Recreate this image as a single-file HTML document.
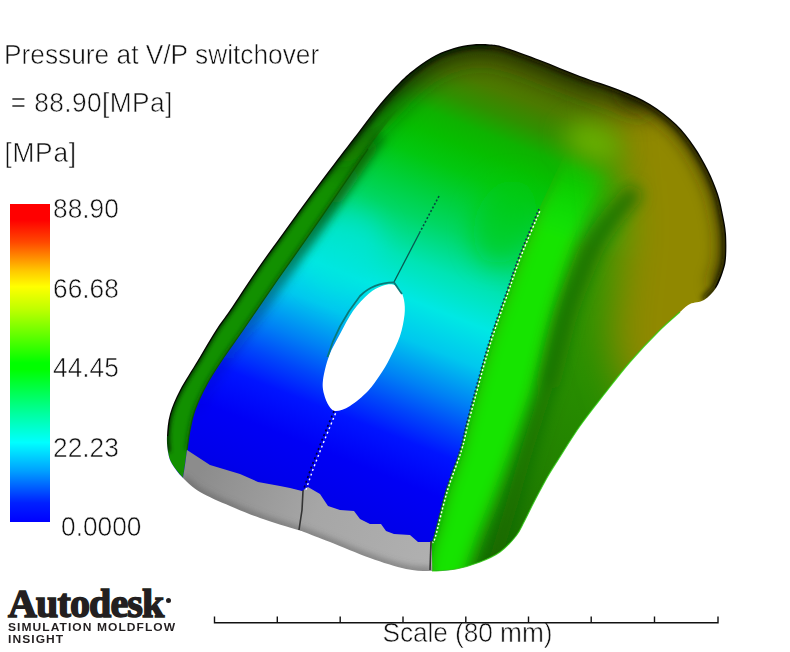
<!DOCTYPE html>
<html><head><meta charset="utf-8"><title>Pressure at V/P switchover</title>
<style>
html,body{margin:0;padding:0;background:#fff;}
body{width:790px;height:652px;position:relative;overflow:hidden;font-family:"Liberation Sans",sans-serif;color:#111;}
.t{position:absolute;white-space:nowrap;font-size:26.3px;line-height:26.3px;color:#101010;-webkit-text-stroke:0.55px #fff;transform:scaleY(1.045);transform-origin:0 84.6%;}
#bar{position:absolute;left:10px;top:204px;width:40px;height:318px;background:linear-gradient(to bottom,#ff0000 0%,#ff0000 5%,#ff4800 12%,#ffc800 21%,#ffff00 26%,#c0ff00 33%,#00ff00 50%,#00ff00 52%,#00ffa0 66%,#00ffff 75%,#00a0ff 84%,#0020ff 94%,#0000ff 100%);}
svg{position:absolute;left:0;top:0;}
.logo{position:absolute;left:8px;top:584px;font-family:"Liberation Serif",serif;font-weight:bold;font-size:40px;line-height:40px;letter-spacing:-0.85px;color:#231f20;-webkit-text-stroke:1.5px #231f20;white-space:nowrap;}
.sub{position:absolute;left:7.5px;font-family:"Liberation Sans",sans-serif;font-weight:bold;font-size:10.2px;line-height:10px;letter-spacing:0.9px;color:#231f20;white-space:nowrap;transform:scaleX(1.18);transform-origin:0 0;}
</style></head><body>
<div class="t" id="t1" style="left:4px;top:42.3px;letter-spacing:0px;">Pressure at V/P switchover</div>
<div class="t" id="t2" style="left:10.8px;top:90.2px;letter-spacing:0.4px;">= 88.90[MPa]</div>
<div class="t" id="t3" style="left:4.4px;top:140.3px;letter-spacing:0.75px;">[MPa]</div>
<div id="bar"></div>
<div class="t" id="l1" style="left:53px;top:196.2px;">88.90</div>
<div class="t" id="l2" style="left:53px;top:275.7px;">66.68</div>
<div class="t" id="l3" style="left:53px;top:355.2px;">44.45</div>
<div class="t" id="l4" style="left:53px;top:434.7px;">22.23</div>
<div class="t" id="l5" style="left:61px;top:514.2px;">0.0000</div>

<svg width="790" height="652" viewBox="0 0 790 652">
<defs>
<mask id="sil" maskUnits="userSpaceOnUse" x="140" y="30" width="620" height="570"><path d="M183.0,478.0 C178.3,473.3 174.5,468.3 172.0,464.0 C169.5,459.7 168.8,456.7 168.0,452.0 C167.2,447.3 166.7,442.3 167.0,436.0 C167.3,429.7 167.8,421.7 170.0,414.0 C172.2,406.3 175.3,399.0 180.0,390.0 C184.7,381.0 192.0,370.0 198.0,360.0 C204.0,350.0 210.7,338.3 216.0,330.0 C221.3,321.7 223.0,320.3 230.0,310.0 C237.0,299.7 248.7,281.5 258.0,268.0 C267.3,254.5 277.3,241.0 286.0,229.0 C294.7,217.0 302.0,206.8 310.0,196.0 C318.0,185.2 325.7,175.0 334.0,164.0 C342.3,153.0 352.3,140.0 360.0,130.0 C367.7,120.0 373.3,112.0 380.0,104.0 C386.7,96.0 394.0,88.0 400.0,82.0 C406.0,76.0 410.0,72.5 416.0,68.0 C422.0,63.5 429.7,58.3 436.0,55.0 C442.3,51.7 448.0,49.8 454.0,48.0 C460.0,46.2 466.0,45.1 472.0,44.5 C478.0,43.9 484.7,44.1 490.0,44.5 C495.3,44.9 495.7,44.4 504.0,47.0 C512.3,49.6 527.3,55.2 540.0,60.0 C552.7,64.8 566.7,71.0 580.0,76.0 C593.3,81.0 608.3,85.3 620.0,90.0 C631.7,94.7 640.7,98.3 650.0,104.0 C659.3,109.7 668.7,117.0 676.0,124.0 C683.3,131.0 688.7,138.3 694.0,146.0 C699.3,153.7 704.0,162.0 708.0,170.0 C712.0,178.0 715.5,186.5 718.0,194.0 C720.5,201.5 721.7,208.3 723.0,215.0 C724.3,221.7 725.5,226.8 726.0,234.0 C726.5,241.2 726.5,251.7 726.0,258.0 C725.5,264.3 724.7,267.0 723.0,272.0 C721.3,277.0 719.2,283.3 716.0,288.0 C712.8,292.7 708.3,297.3 704.0,300.0 C699.7,302.7 694.0,302.0 690.0,304.0 C686.0,306.0 685.3,307.3 680.0,312.0 C674.7,316.7 666.3,323.7 658.0,332.0 C649.7,340.3 638.7,352.0 630.0,362.0 C621.3,372.0 614.3,381.3 606.0,392.0 C597.7,402.7 588.0,414.7 580.0,426.0 C572.0,437.3 563.3,451.7 558.0,460.0 C552.7,468.3 552.0,469.0 548.0,476.0 C544.0,483.0 538.0,494.3 534.0,502.0 C530.0,509.7 527.0,516.3 524.0,522.0 C521.0,527.7 520.0,531.0 516.0,536.0 C512.0,541.0 506.0,547.7 500.0,552.0 C494.0,556.3 487.3,559.2 480.0,562.0 C472.7,564.8 464.0,567.5 456.0,569.0 C448.0,570.5 440.3,571.0 432.0,571.0 C423.7,571.0 416.3,571.2 406.0,569.0 C395.7,566.8 382.7,562.5 370.0,558.0 C357.3,553.5 341.0,546.3 330.0,542.0 C319.0,537.7 309.3,534.0 304.0,532.0 C298.7,530.0 305.3,532.3 298.0,530.0 C290.7,527.7 271.3,522.0 260.0,518.0 C248.7,514.0 240.0,510.3 230.0,506.0 C220.0,501.7 207.8,496.7 200.0,492.0 C192.2,487.3 187.7,482.7 183.0,478.0Z" fill="#fff"/></mask>
<clipPath id="rp"><path d="M539.0,209.0 C535.7,217.0 524.3,243.3 519.0,257.0 C513.7,270.7 512.2,276.2 507.0,291.0 C501.8,305.8 494.5,324.8 488.0,346.0 C481.5,367.2 472.7,400.7 468.0,418.0 C463.3,435.3 463.7,438.0 460.0,450.0 C456.3,462.0 450.3,475.7 446.0,490.0 C441.7,504.3 436.5,527.3 434.0,536.0 C431.5,544.7 431.5,541.0 431.0,542.0 L432.0,571.0 C436.0,570.7 448.0,570.5 456.0,569.0 C464.0,567.5 472.7,564.8 480.0,562.0 C487.3,559.2 494.0,556.3 500.0,552.0 C506.0,547.7 512.0,541.0 516.0,536.0 C520.0,531.0 521.0,527.7 524.0,522.0 C527.0,516.3 530.0,509.7 534.0,502.0 C538.0,494.3 544.0,483.0 548.0,476.0 C552.0,469.0 552.7,468.3 558.0,460.0 C563.3,451.7 572.0,437.3 580.0,426.0 C588.0,414.7 597.7,402.7 606.0,392.0 C614.3,381.3 621.3,372.0 630.0,362.0 C638.7,352.0 649.7,340.3 658.0,332.0 C666.3,323.7 674.7,316.7 680.0,312.0 C685.3,307.3 686.0,306.0 690.0,304.0 C694.0,302.0 699.7,302.7 704.0,300.0 C708.3,297.3 712.8,292.7 716.0,288.0 C719.2,283.3 721.3,277.0 723.0,272.0 C724.7,267.0 725.5,264.3 726.0,258.0 C726.5,251.7 726.5,241.2 726.0,234.0 C725.5,226.8 724.3,221.7 723.0,215.0 C721.7,208.3 720.5,201.5 718.0,194.0 C715.5,186.5 712.0,178.0 708.0,170.0 C704.0,162.0 705.3,156.0 694.0,146.0 C682.7,136.0 657.3,114.3 640.0,110.0 C622.7,105.7 603.0,111.7 590.0,120.0 C577.0,128.3 566.7,153.3 562.0,160.0Z"/></clipPath>
<filter id="b2" x="-20%" y="-20%" width="140%" height="140%"><feGaussianBlur stdDeviation="2"/></filter>
<filter id="b3" x="-20%" y="-20%" width="140%" height="140%"><feGaussianBlur stdDeviation="3"/></filter>
<filter id="b5" x="-20%" y="-20%" width="140%" height="140%"><feGaussianBlur stdDeviation="5"/></filter>
<filter id="b8" x="-30%" y="-30%" width="160%" height="160%"><feGaussianBlur stdDeviation="8"/></filter>
<filter id="b12" x="-30%" y="-30%" width="160%" height="160%"><feGaussianBlur stdDeviation="12"/></filter>
<filter id="b20" x="-40%" y="-40%" width="180%" height="180%"><feGaussianBlur stdDeviation="20"/></filter>
<linearGradient id="gtop" gradientUnits="userSpaceOnUse" x1="250" y1="486.6" x2="435" y2="21.6">
 <stop offset="0.000" stop-color="rgb(0,0,228)"/>
 <stop offset="0.030" stop-color="rgb(0,0,235)"/>
 <stop offset="0.120" stop-color="rgb(0,0,245)"/>
 <stop offset="0.200" stop-color="rgb(0,20,255)"/>
 <stop offset="0.255" stop-color="rgb(0,70,250)"/>
 <stop offset="0.312" stop-color="rgb(0,128,245)"/>
 <stop offset="0.390" stop-color="rgb(0,200,238)"/>
 <stop offset="0.466" stop-color="rgb(0,232,228)"/>
 <stop offset="0.540" stop-color="rgb(0,228,180)"/>
 <stop offset="0.624" stop-color="rgb(0,215,100)"/>
 <stop offset="0.680" stop-color="rgb(0,208,60)"/>
 <stop offset="0.740" stop-color="rgb(2,200,16)"/>
 <stop offset="0.790" stop-color="rgb(6,190,0)"/>
 <stop offset="0.830" stop-color="rgb(14,178,0)"/>
 <stop offset="0.875" stop-color="rgb(48,144,0)"/>
 <stop offset="0.920" stop-color="rgb(75,122,0)"/>
 <stop offset="1.000" stop-color="rgb(90,105,0)"/>
</linearGradient>
<linearGradient id="frp" gradientUnits="userSpaceOnUse" x1="590" y1="150" x2="560" y2="240">
 <stop offset="0" stop-color="#000"/><stop offset="1" stop-color="#fff"/>
</linearGradient>
<mask id="mrp" maskUnits="userSpaceOnUse" x="400" y="30" width="360" height="560"><path d="M539.0,209.0 C535.7,217.0 524.3,243.3 519.0,257.0 C513.7,270.7 512.2,276.2 507.0,291.0 C501.8,305.8 494.5,324.8 488.0,346.0 C481.5,367.2 472.7,400.7 468.0,418.0 C463.3,435.3 463.7,438.0 460.0,450.0 C456.3,462.0 450.3,475.7 446.0,490.0 C441.7,504.3 436.5,527.3 434.0,536.0 C431.5,544.7 431.5,541.0 431.0,542.0 L432.0,571.0 C436.0,570.7 448.0,570.5 456.0,569.0 C464.0,567.5 472.7,564.8 480.0,562.0 C487.3,559.2 494.0,556.3 500.0,552.0 C506.0,547.7 512.0,541.0 516.0,536.0 C520.0,531.0 521.0,527.7 524.0,522.0 C527.0,516.3 530.0,509.7 534.0,502.0 C538.0,494.3 544.0,483.0 548.0,476.0 C552.0,469.0 552.7,468.3 558.0,460.0 C563.3,451.7 572.0,437.3 580.0,426.0 C588.0,414.7 597.7,402.7 606.0,392.0 C614.3,381.3 621.3,372.0 630.0,362.0 C638.7,352.0 649.7,340.3 658.0,332.0 C666.3,323.7 674.7,316.7 680.0,312.0 C685.3,307.3 686.0,306.0 690.0,304.0 C694.0,302.0 699.7,302.7 704.0,300.0 C708.3,297.3 712.8,292.7 716.0,288.0 C719.2,283.3 721.3,277.0 723.0,272.0 C724.7,267.0 725.5,264.3 726.0,258.0 C726.5,251.7 726.5,241.2 726.0,234.0 C725.5,226.8 724.3,221.7 723.0,215.0 C721.7,208.3 720.5,201.5 718.0,194.0 C715.5,186.5 712.0,178.0 708.0,170.0 C704.0,162.0 705.3,156.0 694.0,146.0 C682.7,136.0 657.3,114.3 640.0,110.0 C622.7,105.7 603.0,111.7 590.0,120.0 C577.0,128.3 566.7,153.3 562.0,160.0Z" fill="url(#frp)"/></mask>
<linearGradient id="fls" gradientUnits="userSpaceOnUse" x1="398" y1="108" x2="362" y2="156">
 <stop offset="0" stop-color="#000"/><stop offset="1" stop-color="#fff"/>
</linearGradient>
<mask id="mls" maskUnits="userSpaceOnUse" x="140" y="30" width="360" height="480"><path d="M183.0,478.0 C181.2,475.7 174.5,468.3 172.0,464.0 C169.5,459.7 168.8,456.7 168.0,452.0 C167.2,447.3 166.7,442.3 167.0,436.0 C167.3,429.7 167.8,421.7 170.0,414.0 C172.2,406.3 175.3,399.0 180.0,390.0 C184.7,381.0 192.0,370.0 198.0,360.0 C204.0,350.0 210.7,338.3 216.0,330.0 C221.3,321.7 223.0,320.3 230.0,310.0 C237.0,299.7 248.7,281.5 258.0,268.0 C267.3,254.5 277.3,241.0 286.0,229.0 C294.7,217.0 302.0,206.8 310.0,196.0 C318.0,185.2 325.7,175.0 334.0,164.0 C342.3,153.0 352.3,140.0 360.0,130.0 C367.7,120.0 373.3,112.0 380.0,104.0 C386.7,96.0 394.0,88.0 400.0,82.0 C406.0,76.0 410.0,72.5 416.0,68.0 C422.0,63.5 429.7,58.3 436.0,55.0 C442.3,51.7 451.0,49.2 454.0,48.0 L450.0,60.0 C445.0,64.2 429.7,75.5 420.0,85.0 C410.3,94.5 400.7,106.3 392.0,117.0 C383.3,127.7 376.3,137.3 368.0,149.0 C359.7,160.7 351.8,172.7 342.0,187.0 C332.2,201.3 319.7,219.7 309.0,235.0 C298.3,250.3 289.0,263.2 278.0,279.0 C267.0,294.8 252.0,317.0 243.0,330.0 C234.0,343.0 230.0,348.0 224.0,357.0 C218.0,366.0 211.8,375.2 207.0,384.0 C202.2,392.8 197.8,402.3 195.0,410.0 C192.2,417.7 191.3,423.3 190.0,430.0 C188.7,436.7 187.5,446.7 187.0,450.0Z" fill="url(#fls)"/></mask>
<linearGradient id="gshade" gradientUnits="userSpaceOnUse" x1="200" y1="420" x2="400" y2="110">
 <stop offset="0" stop-color="#000a40" stop-opacity="0"/>
 <stop offset="0.25" stop-color="#002060" stop-opacity="0.25"/>
 <stop offset="0.5" stop-color="#045a30" stop-opacity="0.7"/>
 <stop offset="0.72" stop-color="#086410" stop-opacity="0.9"/>
 <stop offset="0.86" stop-color="#0a6a00" stop-opacity="0.8"/>
 <stop offset="1" stop-color="#0a6a00" stop-opacity="0"/>
</linearGradient>
<linearGradient id="grim1" gradientUnits="userSpaceOnUse" x1="325" y1="180" x2="395" y2="95">
 <stop offset="0" stop-color="#1c2400" stop-opacity="0"/><stop offset="1" stop-color="#1c2400" stop-opacity="0.8"/>
</linearGradient>
<linearGradient id="grim2" gradientUnits="userSpaceOnUse" x1="315" y1="190" x2="385" y2="105">
 <stop offset="0" stop-color="#0c0a00" stop-opacity="0"/><stop offset="1" stop-color="#0c0a00" stop-opacity="0.9"/>
</linearGradient>
<linearGradient id="grpb" gradientUnits="userSpaceOnUse" x1="490" y1="570" x2="640" y2="250">
 <stop offset="0" stop-color="#1a6a00"/><stop offset="0.3" stop-color="#218000"/><stop offset="0.6" stop-color="#288e00"/><stop offset="1" stop-color="#329800"/>
</linearGradient>
<linearGradient id="ggrey" gradientUnits="userSpaceOnUse" x1="200" y1="470" x2="430" y2="560">
 <stop offset="0" stop-color="#8c8c8c"/>
 <stop offset="0.5" stop-color="#a6a6a6"/>
 <stop offset="1" stop-color="#b0b0b0"/>
</linearGradient>
</defs>
<g mask="url(#sil)">
 <rect x="140" y="30" width="620" height="560" fill="url(#gtop)"/>
 <g filter="url(#b12)"><ellipse cx="345" cy="250" rx="42" ry="34" fill="#00e6dc" opacity="0.55" transform="rotate(-50 345 250)"/></g>
 <g filter="url(#b12)"><ellipse cx="505" cy="222" rx="30" ry="44" fill="#04cc0c" opacity="0.6" transform="rotate(20 505 222)"/></g>
 <!-- shading on top face next to left inner seam -->
 <g filter="url(#b5)">
  <path d="M187.0,450.0 C187.5,446.7 188.7,436.7 190.0,430.0 C191.3,423.3 192.2,417.7 195.0,410.0 C197.8,402.3 202.2,392.8 207.0,384.0 C211.8,375.2 218.0,366.0 224.0,357.0 C230.0,348.0 234.0,343.0 243.0,330.0 C252.0,317.0 267.0,294.8 278.0,279.0 C289.0,263.2 298.3,250.3 309.0,235.0 C319.7,219.7 332.2,201.3 342.0,187.0 C351.8,172.7 361.7,158.0 368.0,149.0 C374.3,140.0 378.0,135.7 380.0,133.0" fill="none" stroke="url(#gshade)" stroke-width="17"/>
 </g>
 <!-- right panel -->
 <g mask="url(#mrp)">
  <rect x="420" y="100" width="340" height="490" fill="url(#grpb)"/>
  <g filter="url(#b8)">
   <path d="M539.0,209.0 C535.7,217.0 524.3,243.3 519.0,257.0 C513.7,270.7 512.2,276.2 507.0,291.0 C501.8,305.8 494.5,324.8 488.0,346.0 C481.5,367.2 472.7,400.7 468.0,418.0 C463.3,435.3 463.7,438.0 460.0,450.0 C456.3,462.0 450.3,475.7 446.0,490.0 C441.7,504.3 436.5,527.3 434.0,536.0 C431.5,544.7 433.3,531.3 431.0,542.0 C428.7,552.7 421.8,590.3 420.0,600.0 L462.0,590.0 C464.8,581.7 473.5,555.0 479.0,540.0 C484.5,525.0 489.0,515.5 495.0,500.0 C501.0,484.5 508.2,466.0 515.0,447.0 C521.8,428.0 530.7,403.8 536.0,386.0 C541.3,368.2 543.3,354.3 547.0,340.0 C550.7,325.7 553.8,314.2 558.0,300.0 C562.2,285.8 567.0,269.2 572.0,255.0 C577.0,240.8 582.3,229.2 588.0,215.0 C593.7,200.8 609.0,180.8 606.0,170.0 C603.0,159.2 576.0,153.3 570.0,150.0Z" fill="#14e400"/>
  </g>
 </g>
 <!-- olive back region -->
 <g filter="url(#b20)">
  <path d="M606,30 L780,50 L780,380 L630,404 L610,340 L622,230 L612,120 Z" fill="#908800"/>
 </g>
 <g filter="url(#b8)">
   <path d="M636.0,190.0 C632.0,194.7 619.2,208.7 612.0,218.0 C604.8,227.3 599.0,234.8 593.0,246.0 C587.0,257.2 580.7,273.5 576.0,285.0 C571.3,296.5 568.3,304.2 565.0,315.0 C561.7,325.8 559.0,338.2 556.0,350.0 C553.0,361.8 551.7,369.8 547.0,386.0 C542.3,402.2 533.7,428.0 528.0,447.0 C522.3,466.0 517.5,484.5 513.0,500.0 C508.5,515.5 505.5,525.0 501.0,540.0 C496.5,555.0 488.5,581.7 486.0,590.0" fill="none" stroke="#156400" stroke-width="13" opacity="0.7"/>
   <path d="M636.0,190.0 C632.0,194.7 619.2,208.7 612.0,218.0 C604.8,227.3 599.0,234.8 593.0,246.0 C587.0,257.2 580.7,273.5 576.0,285.0 C571.3,296.5 568.3,304.2 565.0,315.0 C561.7,325.8 559.0,338.2 556.0,350.0 C553.0,361.8 548.5,380.0 547.0,386.0" fill="none" stroke="#166800" stroke-width="16" opacity="0.6"/>
 </g>
 <g filter="url(#b12)">
  <ellipse cx="593" cy="142" rx="30" ry="19" fill="#6cb400" opacity="0.9" transform="rotate(20 593 142)"/>
 </g>
 <!-- left strip -->
 <g mask="url(#mls)">
  <rect x="140" y="30" width="400" height="480" fill="#129000"/>
  <g filter="url(#b2)"><path d="M187.0,450.0 C187.5,446.7 188.7,436.7 190.0,430.0 C191.3,423.3 192.2,417.7 195.0,410.0 C197.8,402.3 202.2,392.8 207.0,384.0 C211.8,375.2 218.0,366.0 224.0,357.0 C230.0,348.0 234.0,343.0 243.0,330.0 C252.0,317.0 267.0,294.8 278.0,279.0 C289.0,263.2 298.3,250.3 309.0,235.0 C319.7,219.7 332.2,201.3 342.0,187.0 C351.8,172.7 359.7,160.7 368.0,149.0 C376.3,137.3 383.3,127.7 392.0,117.0 C400.7,106.3 410.3,94.5 420.0,85.0 C429.7,75.5 445.0,64.2 450.0,60.0" fill="none" stroke="#0a6a00" stroke-width="5"/></g>
 </g>
 <!-- edge darkening -->
 <g filter="url(#b12)">
  <path d="M258.0,268.0 C262.7,261.5 277.3,241.0 286.0,229.0 C294.7,217.0 302.0,206.8 310.0,196.0 C318.0,185.2 325.7,175.0 334.0,164.0 C342.3,153.0 352.3,140.0 360.0,130.0 C367.7,120.0 373.3,112.0 380.0,104.0 C386.7,96.0 394.0,88.0 400.0,82.0 C406.0,76.0 410.0,72.5 416.0,68.0 C422.0,63.5 429.7,58.3 436.0,55.0 C442.3,51.7 448.0,49.8 454.0,48.0 C460.0,46.2 466.0,45.1 472.0,44.5 C478.0,43.9 484.7,44.1 490.0,44.5 C495.3,44.9 495.7,44.4 504.0,47.0 C512.3,49.6 527.3,55.2 540.0,60.0 C552.7,64.8 566.7,71.0 580.0,76.0 C593.3,81.0 608.3,85.3 620.0,90.0 C631.7,94.7 645.0,101.7 650.0,104.0" fill="none" stroke="url(#grim1)" stroke-width="30"/>
 </g>
 <g filter="url(#b8)">
  <path d="M620.0,90.0 C625.0,92.3 640.7,98.3 650.0,104.0 C659.3,109.7 668.7,117.0 676.0,124.0 C683.3,131.0 688.7,138.3 694.0,146.0 C699.3,153.7 704.0,162.0 708.0,170.0 C712.0,178.0 715.5,186.5 718.0,194.0 C720.5,201.5 721.7,208.3 723.0,215.0 C724.3,221.7 725.5,226.8 726.0,234.0 C726.5,241.2 726.5,251.7 726.0,258.0 C725.5,264.3 724.7,267.0 723.0,272.0 C721.3,277.0 717.2,285.3 716.0,288.0" fill="none" stroke="#282000" stroke-width="16" opacity="0.75"/>
 </g>
 <g filter="url(#b3)">
  <path d="M258.0,268.0 C262.7,261.5 277.3,241.0 286.0,229.0 C294.7,217.0 302.0,206.8 310.0,196.0 C318.0,185.2 325.7,175.0 334.0,164.0 C342.3,153.0 352.3,140.0 360.0,130.0 C367.7,120.0 373.3,112.0 380.0,104.0 C386.7,96.0 394.0,88.0 400.0,82.0 C406.0,76.0 410.0,72.5 416.0,68.0 C422.0,63.5 429.7,58.3 436.0,55.0 C442.3,51.7 448.0,49.8 454.0,48.0 C460.0,46.2 466.0,45.1 472.0,44.5 C478.0,43.9 484.7,44.1 490.0,44.5 C495.3,44.9 495.7,44.4 504.0,47.0 C512.3,49.6 527.3,55.2 540.0,60.0 C552.7,64.8 566.7,71.0 580.0,76.0 C593.3,81.0 608.3,85.3 620.0,90.0 C631.7,94.7 640.7,98.3 650.0,104.0 C659.3,109.7 668.7,117.0 676.0,124.0 C683.3,131.0 688.7,138.3 694.0,146.0 C699.3,153.7 704.0,162.0 708.0,170.0 C712.0,178.0 715.5,186.5 718.0,194.0 C720.5,201.5 721.7,208.3 723.0,215.0 C724.3,221.7 725.5,226.8 726.0,234.0 C726.5,241.2 726.5,251.7 726.0,258.0 C725.5,264.3 724.7,267.0 723.0,272.0 C721.3,277.0 719.2,283.3 716.0,288.0 C712.8,292.7 706.0,298.0 704.0,300.0" fill="none" stroke="url(#grim2)" stroke-width="7"/>
 </g>
 <g filter="url(#b2)">
  <path d="M168.0,452.0 C167.8,449.3 166.7,442.3 167.0,436.0 C167.3,429.7 167.8,421.7 170.0,414.0 C172.2,406.3 175.3,399.0 180.0,390.0 C184.7,381.0 192.0,370.0 198.0,360.0 C204.0,350.0 210.7,338.3 216.0,330.0 C221.3,321.7 223.0,320.3 230.0,310.0 C237.0,299.7 248.7,281.5 258.0,268.0 C267.3,254.5 277.3,241.0 286.0,229.0 C294.7,217.0 302.0,206.8 310.0,196.0 C318.0,185.2 325.7,175.0 334.0,164.0 C342.3,153.0 352.3,140.0 360.0,130.0 C367.7,120.0 373.3,112.0 380.0,104.0 C386.7,96.0 394.0,88.0 400.0,82.0 C406.0,76.0 410.0,72.5 416.0,68.0 C422.0,63.5 429.7,58.3 436.0,55.0 C442.3,51.7 448.0,49.8 454.0,48.0 C460.0,46.2 466.0,45.1 472.0,44.5 C478.0,43.9 487.0,44.5 490.0,44.5" fill="none" stroke="#032800" stroke-width="5"/>
 </g>
 <path d="M167.0,436.0 C167.5,432.3 167.8,421.7 170.0,414.0 C172.2,406.3 175.3,399.0 180.0,390.0 C184.7,381.0 192.0,370.0 198.0,360.0 C204.0,350.0 210.7,338.3 216.0,330.0 C221.3,321.7 223.0,320.3 230.0,310.0 C237.0,299.7 248.7,281.5 258.0,268.0 C267.3,254.5 277.3,241.0 286.0,229.0 C294.7,217.0 302.0,206.8 310.0,196.0 C318.0,185.2 325.7,175.0 334.0,164.0 C342.3,153.0 352.3,140.0 360.0,130.0 C367.7,120.0 373.3,112.0 380.0,104.0 C386.7,96.0 394.0,88.0 400.0,82.0 C406.0,76.0 410.0,72.5 416.0,68.0 C422.0,63.5 429.7,58.3 436.0,55.0 C442.3,51.7 448.0,49.8 454.0,48.0 C460.0,46.2 466.0,45.1 472.0,44.5 C478.0,43.9 484.7,44.1 490.0,44.5 C495.3,44.9 495.7,44.4 504.0,47.0 C512.3,49.6 527.3,55.2 540.0,60.0 C552.7,64.8 566.7,71.0 580.0,76.0 C593.3,81.0 608.3,85.3 620.0,90.0 C631.7,94.7 640.7,98.3 650.0,104.0 C659.3,109.7 668.7,117.0 676.0,124.0 C683.3,131.0 688.7,138.3 694.0,146.0 C699.3,153.7 704.0,162.0 708.0,170.0 C712.0,178.0 715.5,186.5 718.0,194.0 C720.5,201.5 721.7,208.3 723.0,215.0 C724.3,221.7 725.5,226.8 726.0,234.0 C726.5,241.2 726.5,251.7 726.0,258.0 C725.5,264.3 724.7,267.0 723.0,272.0 C721.3,277.0 717.2,285.3 716.0,288.0" fill="none" stroke="#050500" stroke-width="2.4"/>
 <!-- grey -->
 <path d="M187.0,450.0 L210.0,465.0 L240.0,474.0 L258.0,482.0 L280.0,486.0 L290.0,488.0 L302.0,491.0 L308.0,487.0 L320.0,494.0 L328.0,506.0 L340.0,510.0 L354.0,511.0 L360.0,519.0 L370.0,524.0 L381.0,524.0 L386.0,531.0 L394.0,534.0 L410.0,535.0 L418.0,542.0 L431.0,542.0 L432.0,552.0 L432.5,600.0 L183.0,600.0 L183.0,478.0 L185.0,465.0Z" fill="url(#ggrey)"/>
 <g filter="url(#b3)"><path d="M183.0,478.0 C185.8,480.3 192.2,487.3 200.0,492.0 C207.8,496.7 220.0,501.7 230.0,506.0 C240.0,510.3 248.7,514.0 260.0,518.0 C271.3,522.0 290.7,527.7 298.0,530.0 C305.3,532.3 298.7,530.0 304.0,532.0 C309.3,534.0 319.0,537.7 330.0,542.0 C341.0,546.3 357.3,553.5 370.0,558.0 C382.7,562.5 395.7,566.8 406.0,569.0 C416.3,571.2 427.7,570.7 432.0,571.0" fill="none" stroke="#5a5a5a" stroke-width="7" opacity="0.55"/></g>
</g>
<path d="M680.0,312.0 C676.3,315.3 666.3,323.7 658.0,332.0 C649.7,340.3 638.7,352.0 630.0,362.0 C621.3,372.0 614.3,381.3 606.0,392.0 C597.7,402.7 588.0,414.7 580.0,426.0 C572.0,437.3 563.3,451.7 558.0,460.0 C552.7,468.3 552.0,469.0 548.0,476.0 C544.0,483.0 538.0,494.3 534.0,502.0 C530.0,509.7 527.0,516.3 524.0,522.0 C521.0,527.7 520.0,531.0 516.0,536.0 C512.0,541.0 506.0,547.7 500.0,552.0 C494.0,556.3 487.3,559.2 480.0,562.0 C472.7,564.8 464.0,567.5 456.0,569.0 C448.0,570.5 436.0,570.7 432.0,571.0" fill="none" stroke="#2ccc00" stroke-width="1.2" opacity="0.8"/>
<path d="M393.0,284.5 C396.0,285.1 398.2,286.9 400.0,289.5 C401.8,292.1 403.2,295.8 404.0,300.0 C404.8,304.2 405.2,309.0 404.5,315.0 C403.8,321.0 402.4,328.8 400.0,336.0 C397.6,343.2 393.3,351.5 390.0,358.0 C386.7,364.5 383.7,369.5 380.0,375.0 C376.3,380.5 373.0,385.8 368.0,391.0 C363.0,396.2 355.3,402.7 350.0,406.0 C344.7,409.3 339.5,411.0 336.0,411.0 C332.5,411.0 331.0,408.8 329.0,406.0 C327.0,403.2 325.0,398.3 324.0,394.0 C323.0,389.7 322.2,386.3 323.0,380.0 C323.8,373.7 326.2,363.7 329.0,356.0 C331.8,348.3 336.0,341.5 340.0,334.0 C344.0,326.5 348.2,317.8 353.0,311.0 C357.8,304.2 364.2,297.7 369.0,293.5 C373.8,289.3 378.0,287.5 382.0,286.0 C386.0,284.5 390.0,283.9 393.0,284.5Z" fill="#fff"/>
<path d="M187.0,450.0 C187.5,446.7 188.7,436.7 190.0,430.0 C191.3,423.3 192.2,417.7 195.0,410.0 C197.8,402.3 202.2,392.8 207.0,384.0 C211.8,375.2 218.0,366.0 224.0,357.0 C230.0,348.0 234.0,343.0 243.0,330.0 C252.0,317.0 267.0,294.8 278.0,279.0 C289.0,263.2 298.3,250.3 309.0,235.0 C319.7,219.7 332.2,201.3 342.0,187.0 C351.8,172.7 363.7,155.3 368.0,149.0" fill="none" stroke="#0a5a00" stroke-width="1.2"/>
<path d="M539.0,209.0 C535.7,217.0 524.3,243.3 519.0,257.0 C513.7,270.7 512.2,276.2 507.0,291.0 C501.8,305.8 494.5,324.8 488.0,346.0 C481.5,367.2 472.7,400.7 468.0,418.0 C463.3,435.3 463.7,438.0 460.0,450.0 C456.3,462.0 450.3,475.7 446.0,490.0 C441.7,504.3 436.5,527.3 434.0,536.0 C431.5,544.7 431.5,541.0 431.0,542.0" fill="none" stroke="#103060" stroke-width="1.6" stroke-dasharray="2 2"/>
<path d="M539.0,209.0 C535.7,217.0 524.3,243.3 519.0,257.0 C513.7,270.7 512.2,276.2 507.0,291.0 C501.8,305.8 494.5,324.8 488.0,346.0 C481.5,367.2 472.7,400.7 468.0,418.0 C463.3,435.3 463.7,438.0 460.0,450.0 C456.3,462.0 450.3,475.7 446.0,490.0 C441.7,504.3 436.5,527.3 434.0,536.0 C431.5,544.7 431.5,541.0 431.0,542.0" fill="none" stroke="#fff" stroke-width="1.4" stroke-dasharray="2 2" stroke-dashoffset="2" transform="translate(1.5,0.5)"/>
<path d="M439,196 L420,232" fill="none" stroke="#064a40" stroke-width="1.6" stroke-dasharray="2 2"/>
<path d="M420,232 L394,282" fill="none" stroke="#075a50" stroke-width="1.3"/>
<path d="M334,411 L322,440 L311,468 L303,491" fill="none" stroke="#00003c" stroke-width="1.6" stroke-dasharray="2 3"/>
<path d="M335,411 L323,440 L312,468 L304,491" fill="none" stroke="#fff" stroke-width="1.4" stroke-dasharray="2 3" stroke-dashoffset="2.5" transform="translate(1.5,0)"/>
<path d="M303,491 L302,510 L299,530" fill="none" stroke="#333" stroke-width="1.6"/>
<path d="M431,541 L430,570" fill="none" stroke="#333" stroke-width="1.6"/>
<path d="M327.5,357 C333,338 345,315 360,296 C369,287 381,282.5 394,282.4 L402,294" fill="none" stroke="#0a7a78" stroke-width="1.8"/>
</svg>
<div class="t" id="sc" style="left:382.5px;top:619.9px;letter-spacing:-0.08px;">Scale (80 mm)</div>
<svg width="790" height="652" viewBox="0 0 790 652" style="pointer-events:none">
<path d="M214.5,616.4 V622.8 H718 V616.4 M277.3,616.4 V622.8 M340.2,616.4 V622.8 M403,616.4 V622.8 M465.8,616.4 V622.8 M528.5,616.4 V622.8 M591.2,616.4 V622.8 M654.5,616.4 V622.8" fill="none" stroke="#111" stroke-width="1.4"/>
</svg>
<div class="logo" id="lg">Autodesk</div>
<div style="position:absolute;left:165.6px;top:597.6px;width:5.6px;height:5.6px;border-radius:50%;background:#231f20;"></div>
<div class="sub" id="s1" style="top:622.6px;">SIMULATION MOLDFLOW</div>
<div class="sub" id="s2" style="top:634.6px;">INSIGHT</div>
</body></html>
